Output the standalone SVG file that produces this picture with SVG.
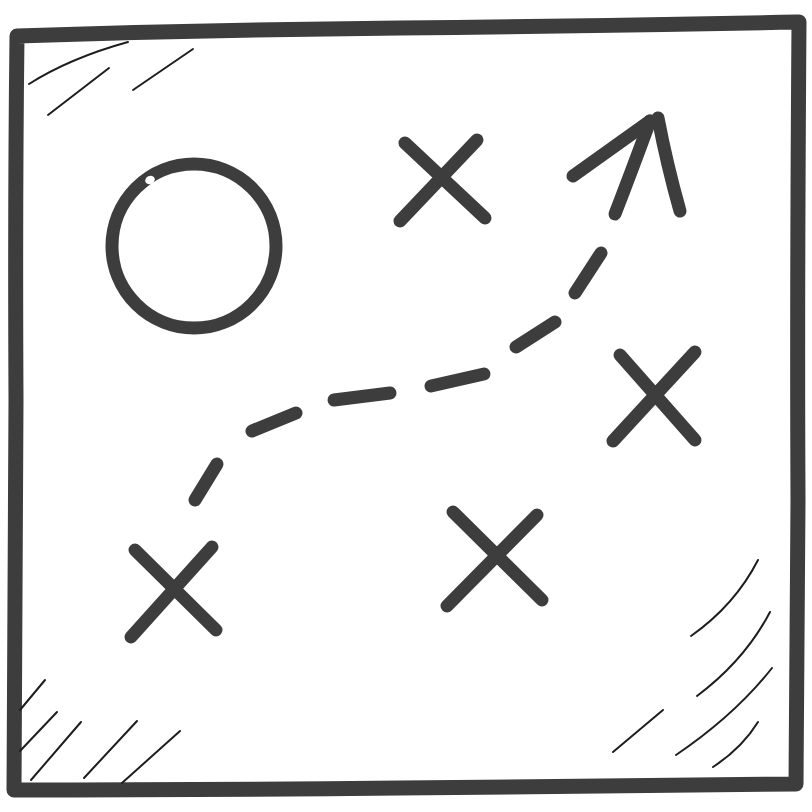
<svg xmlns="http://www.w3.org/2000/svg" width="812" height="812" viewBox="0 0 812 812">
<style>
.mk{fill:none;stroke:#3d3d3d;stroke-linecap:round;stroke-linejoin:round}
.thick{stroke-width:13}
.frame{stroke-width:15}
.hatch{fill:none;stroke:#1e1e1e;stroke-width:2;stroke-linecap:round}
</style>
<rect width="812" height="812" fill="#ffffff"/>
<g id="frame">
<path class="mk frame" d="M17,36 Q200,30 400,28 Q600,26 799,22 Q797,300 798,500 Q797,650 796,784 Q600,786 400,788 Q200,790 14,790 Q15,600 16,400 Q15,200 17,36 Z"/>
</g>
<g id="hatches">
<path class="hatch" d="M29,84 Q70,58 128,42"/>
<path class="hatch" d="M48,115 L109,68"/>
<path class="hatch" d="M133,90 L193,49"/>
<path class="hatch" d="M20,710 L45,680"/>
<path class="hatch" d="M20,751 L57,712"/>
<path class="hatch" d="M31,780 L81,722"/>
<path class="hatch" d="M84,778 L137,721"/>
<path class="hatch" d="M122,783 L180,731"/>
<path class="hatch" d="M691,636 Q735,605 758,560"/>
<path class="hatch" d="M697,696 Q745,660 770,612"/>
<path class="hatch" d="M613,752 L663,710"/>
<path class="hatch" d="M676,755 Q735,715 772,668"/>
<path class="hatch" d="M713,767 Q742,748 758,722"/>
</g>
<g id="circle">
<circle class="mk thick" cx="194" cy="246" r="82"/>
<ellipse cx="150" cy="180" rx="5" ry="4" fill="#ffffff" transform="rotate(-25 150 180)"/>
</g>
<g id="x1"><path class="mk thick" d="M405,143 L485,218 M477,140 L400,221"/></g>
<g id="x2"><path class="mk thick" d="M620,355 L695,440 M695,352 L613,441"/></g>
<g id="x3"><path class="mk thick" d="M453,512 L542,600 M537,515 L447,606"/></g>
<g id="x4"><path class="mk thick" d="M135,550 L216,630 M212,547 L131,637"/></g>
<g id="connectors">
<path class="mk thick" d="M195,500 L217,464"/>
<path class="mk thick" d="M252,431 L296,413"/>
<path class="mk thick" d="M334,400 L390,393"/>
<path class="mk thick" d="M431,386 L484,374"/>
<path class="mk thick" d="M516,347 L555,322"/>
<path class="mk thick" d="M575,293 L601,253"/>
<path class="mk thick" d="M573,176 Q612,148 650,121"/>
<path class="mk thick" d="M615,214 Q632,170 650,121"/>
<path class="mk thick" d="M658,118 Q667,165 680,211"/>
</g>
</svg>
